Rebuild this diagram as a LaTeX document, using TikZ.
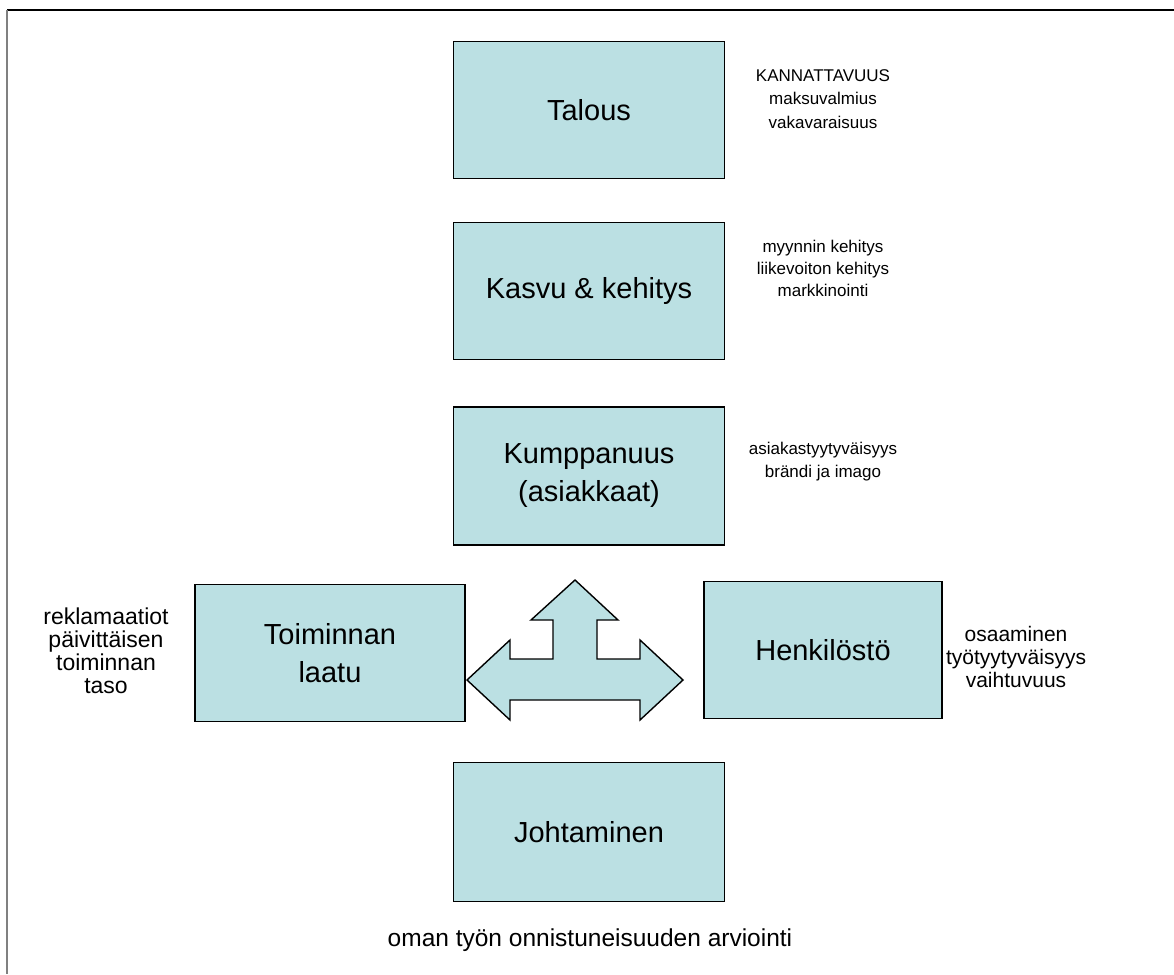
\documentclass[tikz,border=0pt]{standalone}
\usepackage{fontspec}
\setmainfont{Liberation Sans}
\begin{document}
\begin{tikzpicture}[x=1pt,y=-1pt,
  panel/.style={draw=black,line width=1.4pt,fill=boxblue,inner sep=0pt,
    align=center,font=\fontsize{29}{38}\selectfont},
  note/.style={align=center,inner sep=0pt,font=\fontsize{21}{23}\selectfont}]
\definecolor{boxblue}{HTML}{BBE0E3}
\useasboundingbox (0,0) rectangle (1174,974);
% page frame
\draw[line width=1.5pt] (7,10) -- (1174,10);
\draw[line width=2pt,gray] (7,10) -- (7,974);

% perspective boxes
\node[panel,minimum width=271pt,minimum height=137pt] (talous) at (589,110) {Talous};
\node[panel,minimum width=271pt,minimum height=137pt] (kasvu) at (589,291) {Kasvu \& kehitys};
\node[panel,minimum width=271pt,minimum height=138pt] (kump) at (589,476) {Kumppanuus\\(asiakkaat)};
\node[panel,minimum width=270pt,minimum height=137pt] (toim) at (330,653) {Toiminnan\\laatu};
\node[panel,minimum width=238pt,minimum height=137pt] (henk) at (823,650) {Henkilöstö};
\node[panel,minimum width=271pt,minimum height=139pt] (joht) at (589,832) {Johtaminen};

% indicators beside the boxes
\node[note,font=\fontsize{17}{23.5}\selectfont] (n1) at (823,99) {KANNATTAVUUS\\maksuvalmius\\vakavaraisuus};
\node[note,font=\fontsize{17}{22}\selectfont] (n2) at (823,268) {myynnin kehitys\\liikevoiton kehitys\\markkinointi};
\node[note,font=\fontsize{17}{23}\selectfont] (n3) at (823,462) {asiakastyytyväisyys\\brändi ja imago};
\node[note,font=\fontsize{23}{23}\selectfont] (n4) at (106,651) {reklamaatiot\\päivittäisen\\toiminnan\\taso};
\node[note] (n5) at (1016,657) {osaaminen\\työtyytyväisyys\\vaihtuvuus};
\node[note,font=\fontsize{24.5}{26}\selectfont] (n6) at (590,940) {oman työn onnistuneisuuden arviointi};

% three-way arrow
\draw[line width=1.4pt,fill=boxblue,line join=miter]
  (575,580) -- (618,620) -- (597,620) -- (597,659) -- (640,659) -- (640,640)
  -- (683,680) -- (640,720) -- (640,700) -- (510,700) -- (510,720)
  -- (467,680) -- (510,640) -- (510,659) -- (553,659) -- (553,620)
  -- (531,620) -- cycle;
\end{tikzpicture}
\end{document}
